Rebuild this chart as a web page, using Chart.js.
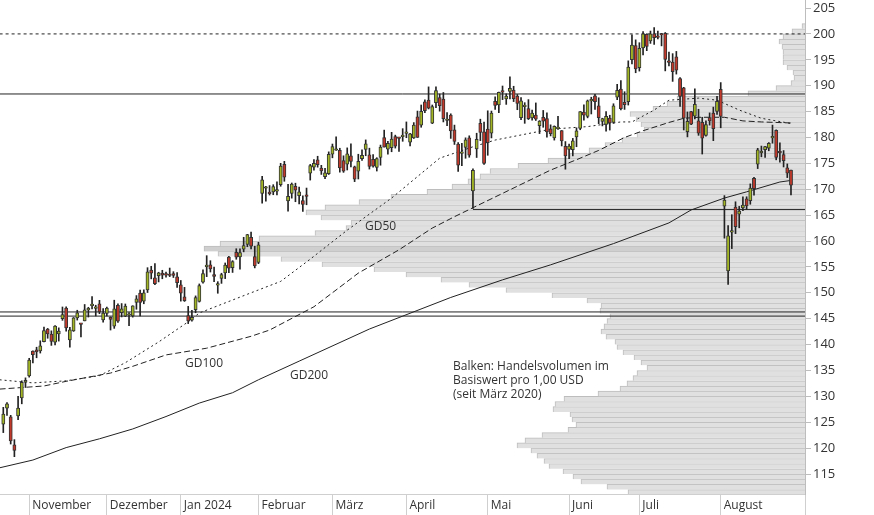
<!DOCTYPE html>
<html>
<head>
<meta charset="utf-8">
<script src="https://cdn.jsdelivr.net/npm/chart.js@4.4.1/dist/chart.umd.min.js"></script>
<style>
    html, body { margin: 0; padding: 0; background: #fff; }
    #chart { display: block; }
</style>
</head>
<body>
<canvas id="chart" width="874" height="515"></canvas>
<script>
// trading days shown (Okt 2023 - Aug 2024)
const days = [
    "2023-10-23", "2023-10-24", "2023-10-25", "2023-10-26", "2023-10-27", "2023-10-30", "2023-10-31",
    "2023-11-01", "2023-11-02", "2023-11-03", "2023-11-06", "2023-11-07", "2023-11-08", "2023-11-09", "2023-11-10",
    "2023-11-13", "2023-11-14", "2023-11-15", "2023-11-16", "2023-11-17", "2023-11-20", "2023-11-21", "2023-11-22",
    "2023-11-24", "2023-11-27", "2023-11-28", "2023-11-29", "2023-11-30",
    "2023-12-01", "2023-12-04", "2023-12-05", "2023-12-06", "2023-12-07", "2023-12-08", "2023-12-11", "2023-12-12",
    "2023-12-13", "2023-12-14", "2023-12-15", "2023-12-18", "2023-12-19", "2023-12-20", "2023-12-21", "2023-12-22",
    "2023-12-26", "2023-12-27", "2023-12-28", "2023-12-29",
    "2024-01-02", "2024-01-03", "2024-01-04", "2024-01-05", "2024-01-08", "2024-01-09", "2024-01-10", "2024-01-11",
    "2024-01-12", "2024-01-16", "2024-01-17", "2024-01-18", "2024-01-19", "2024-01-22", "2024-01-23", "2024-01-24",
    "2024-01-25", "2024-01-26", "2024-01-29", "2024-01-30", "2024-01-31",
    "2024-02-01", "2024-02-02", "2024-02-05", "2024-02-06", "2024-02-07", "2024-02-08", "2024-02-09", "2024-02-12",
    "2024-02-13", "2024-02-14", "2024-02-15", "2024-02-16", "2024-02-20", "2024-02-21", "2024-02-22", "2024-02-23",
    "2024-02-26", "2024-02-27", "2024-02-28", "2024-02-29",
    "2024-03-01", "2024-03-04", "2024-03-05", "2024-03-06", "2024-03-07", "2024-03-08", "2024-03-11", "2024-03-12",
    "2024-03-13", "2024-03-14", "2024-03-15", "2024-03-18", "2024-03-19", "2024-03-20", "2024-03-21", "2024-03-22",
    "2024-03-25", "2024-03-26", "2024-03-27", "2024-03-28",
    "2024-04-01", "2024-04-02", "2024-04-03", "2024-04-04", "2024-04-05", "2024-04-08", "2024-04-09", "2024-04-10",
    "2024-04-11", "2024-04-12", "2024-04-15", "2024-04-16", "2024-04-17", "2024-04-18", "2024-04-19", "2024-04-22",
    "2024-04-23", "2024-04-24", "2024-04-25", "2024-04-26", "2024-04-29", "2024-04-30",
    "2024-05-01", "2024-05-02", "2024-05-03", "2024-05-06", "2024-05-07", "2024-05-08", "2024-05-09", "2024-05-10",
    "2024-05-13", "2024-05-14", "2024-05-15", "2024-05-16", "2024-05-17", "2024-05-20", "2024-05-21", "2024-05-22",
    "2024-05-23", "2024-05-24", "2024-05-28", "2024-05-29", "2024-05-30", "2024-05-31",
    "2024-06-03", "2024-06-04", "2024-06-05", "2024-06-06", "2024-06-07", "2024-06-10", "2024-06-11", "2024-06-12",
    "2024-06-13", "2024-06-14", "2024-06-17", "2024-06-18", "2024-06-20", "2024-06-21", "2024-06-24", "2024-06-25",
    "2024-06-26", "2024-06-27", "2024-06-28",
    "2024-07-01", "2024-07-02", "2024-07-03", "2024-07-05", "2024-07-08", "2024-07-09", "2024-07-10", "2024-07-11",
    "2024-07-12", "2024-07-15", "2024-07-16", "2024-07-17", "2024-07-18", "2024-07-19", "2024-07-22", "2024-07-23",
    "2024-07-24", "2024-07-25", "2024-07-26", "2024-07-29", "2024-07-30", "2024-07-31",
    "2024-08-01", "2024-08-02", "2024-08-05", "2024-08-06", "2024-08-07", "2024-08-08", "2024-08-09", "2024-08-12",
    "2024-08-13", "2024-08-14", "2024-08-15", "2024-08-16", "2024-08-19", "2024-08-20", "2024-08-21", "2024-08-22",
    "2024-08-23", "2024-08-26", "2024-08-27", "2024-08-28",
];

const opens = [
    124.63, 127.74, 126.04, 120.63, 126.20, 129.72, 132.75,
    133.96, 138.73, 138.99, 138.76, 140.55, 142.97, 142.02, 140.46, 142.08, 145.00, 147.06, 140.91, 142.66, 145.13, 143.91, 144.57, 146.70, 147.53, 146.98, 147.85, 144.76,
    146.00, 145.25, 143.55, 147.58, 146.15, 145.48, 145.66, 145.52, 148.12, 149.93, 148.38, 150.56, 154.40, 152.90, 153.30, 153.77, 153.56, 153.56, 153.72, 153.10,
    151.54, 149.20, 145.59, 144.69, 146.74, 148.33, 152.06, 155.04, 155.39, 153.53, 151.49, 152.77, 153.83, 156.89, 154.85, 157.80, 156.95, 158.42, 159.34, 160.70, 157.00,
    155.87, 169.19, 170.20, 169.39, 169.48, 169.65, 170.90, 174.80, 167.73, 169.21, 170.58, 168.74, 167.83, 168.94, 173.10, 174.28, 175.70, 174.08, 172.44, 173.01,
    176.75, 177.53, 177.53, 175.54, 174.83, 176.44, 174.31, 173.50, 175.90, 177.69, 176.64, 175.80, 174.22, 176.14, 179.99, 177.75, 178.01, 180.15, 179.88, 180.17,
    180.79, 179.07, 179.90, 184.00, 182.38, 186.90, 187.24, 182.77, 186.74, 187.72, 187.43, 183.27, 184.31, 181.47, 178.74, 176.94, 178.08, 179.94, 169.68, 177.80, 182.75, 181.09,
    181.64, 180.85, 186.99, 186.28, 188.92, 187.44, 188.88, 189.16, 188.00, 183.82, 185.97, 185.60, 183.76, 184.34, 182.30, 183.88, 183.66, 181.65, 179.93, 181.70, 181.31, 178.30,
    177.70, 177.64, 180.10, 181.75, 184.90, 184.07, 187.06, 188.02, 186.09, 183.08, 182.52, 183.74, 182.91, 187.80, 189.33, 186.81, 186.92, 195.01, 197.73,
    193.49, 197.28, 199.94, 198.65, 200.04, 199.40, 200.00, 200.09, 194.80, 194.56, 195.59, 191.35, 189.59, 181.14, 185.00, 184.10, 183.20, 182.91, 180.39, 183.84, 184.72, 185.05,
    189.29, 166.75, 154.21, 161.71, 166.55, 165.17, 166.40, 168.14, 167.81, 172.11, 174.86, 177.04, 177.64, 177.92, 179.92, 181.38, 177.34, 176.70, 174.15, 173.69,
];

const highs = [
    127.88, 128.80, 126.34, 121.64, 130.02, 133.00, 133.57,
    137.35, 138.81, 139.49, 140.73, 143.37, 143.12, 142.65, 143.65, 143.23, 147.26, 147.29, 143.32, 145.23, 146.63, 144.05, 147.74, 147.20, 149.26, 147.60, 148.54, 146.93,
    147.25, 145.35, 148.57, 147.85, 147.92, 147.84, 146.19, 147.50, 149.46, 150.54, 150.57, 154.85, 155.12, 155.63, 153.97, 154.35, 153.98, 154.78, 154.08, 153.89,
    152.38, 151.05, 147.38, 146.59, 149.40, 151.71, 154.42, 157.17, 156.20, 154.99, 152.15, 153.78, 155.76, 157.05, 156.21, 158.51, 158.51, 160.72, 161.29, 161.73, 159.01,
    159.76, 172.50, 170.55, 170.71, 170.88, 171.43, 175.00, 175.39, 170.95, 171.21, 171.17, 170.42, 168.71, 170.23, 174.80, 175.75, 176.37, 174.62, 174.05, 177.22,
    178.73, 180.14, 177.92, 176.46, 177.99, 178.79, 174.47, 176.76, 177.62, 179.53, 177.93, 176.69, 176.09, 178.53, 181.42, 179.26, 180.99, 180.45, 180.00, 181.70,
    183.00, 180.79, 182.87, 185.10, 186.27, 187.29, 189.77, 186.27, 189.77, 188.38, 188.69, 184.83, 184.57, 182.39, 179.00, 178.87, 179.93, 180.32, 173.92, 180.82, 183.53, 182.99,
    185.15, 185.10, 187.87, 188.75, 189.94, 188.43, 191.70, 189.89, 188.31, 187.72, 186.72, 187.31, 185.30, 186.67, 183.26, 185.22, 184.76, 182.44, 182.24, 184.08, 181.34, 179.21,
    178.70, 179.82, 181.86, 185.00, 186.29, 187.23, 187.77, 188.35, 187.67, 183.72, 185.00, 184.29, 186.51, 190.26, 191.00, 188.84, 194.80, 199.84, 198.85,
    198.30, 200.43, 200.03, 200.55, 201.20, 200.57, 200.11, 200.27, 196.47, 196.19, 196.62, 191.58, 189.68, 184.93, 185.06, 189.39, 185.45, 183.90, 183.19, 184.75, 185.86, 187.94,
    190.60, 168.77, 162.96, 165.08, 167.58, 166.69, 168.55, 168.55, 171.04, 172.28, 177.91, 178.34, 178.30, 179.01, 182.39, 181.47, 178.97, 177.47, 174.89, 173.69,
];

const lows = [
    123.00, 126.34, 120.79, 118.35, 125.52, 128.56, 131.71,
    133.71, 136.47, 137.45, 138.36, 140.50, 141.22, 139.84, 139.91, 140.67, 144.68, 142.59, 139.52, 142.54, 144.73, 141.50, 144.57, 145.32, 146.88, 145.53, 145.97, 144.33,
    145.55, 142.81, 143.13, 144.28, 145.34, 145.40, 143.64, 145.30, 146.82, 145.52, 147.88, 150.05, 152.69, 151.56, 152.10, 152.71, 153.03, 153.12, 152.95, 151.03,
    148.39, 148.33, 144.05, 144.53, 146.15, 148.21, 151.88, 153.12, 154.01, 152.15, 149.91, 151.82, 152.74, 153.90, 153.93, 156.48, 154.55, 157.91, 158.90, 158.49, 154.81,
    155.62, 167.33, 167.70, 168.88, 168.94, 168.88, 170.58, 171.54, 165.75, 168.28, 167.59, 167.17, 165.74, 167.00, 171.77, 173.70, 174.26, 172.86, 172.03, 172.85,
    176.07, 177.49, 173.30, 173.26, 173.72, 174.33, 171.47, 171.98, 175.55, 176.47, 173.90, 174.28, 173.52, 174.64, 178.15, 176.75, 177.24, 177.95, 177.31, 179.26,
    179.95, 178.38, 179.80, 180.00, 181.97, 184.81, 185.51, 182.67, 185.77, 185.08, 183.00, 182.26, 179.82, 178.65, 173.44, 174.56, 175.98, 176.18, 166.32, 176.13, 179.39, 174.80,
    176.56, 179.91, 185.42, 184.80, 187.31, 186.39, 187.44, 186.93, 185.36, 183.45, 182.73, 183.46, 183.35, 183.28, 180.75, 181.97, 180.08, 180.30, 179.49, 181.55, 178.36, 173.87,
    175.92, 176.44, 178.21, 181.49, 183.36, 183.79, 184.54, 185.43, 182.67, 182.23, 181.22, 181.43, 182.72, 187.30, 185.33, 185.42, 186.26, 194.20, 192.50,
    192.82, 195.93, 196.76, 198.17, 197.96, 199.05, 197.69, 192.86, 193.83, 190.83, 192.24, 185.99, 181.45, 180.11, 182.48, 183.56, 180.41, 176.80, 180.24, 182.38, 179.38, 184.46,
    181.87, 160.55, 151.61, 158.54, 161.43, 162.55, 165.85, 166.11, 167.10, 168.86, 173.99, 176.26, 176.16, 177.43, 178.89, 175.68, 175.24, 174.30, 172.25, 168.92,
];

const closes = [
    126.56, 128.56, 121.39, 119.57, 127.74, 132.71, 133.09,
    137.00, 138.07, 138.60, 139.74, 142.71, 142.08, 140.60, 143.56, 142.59, 145.80, 143.20, 142.83, 145.18, 146.13, 143.90, 146.71, 146.74, 147.73, 147.03, 146.32, 146.09,
    147.03, 144.84, 146.88, 144.52, 146.88, 147.42, 145.89, 147.48, 148.84, 148.12, 149.97, 154.07, 153.79, 151.77, 153.84, 153.42, 153.41, 153.34, 153.38, 151.94,
    149.93, 148.47, 144.57, 145.24, 149.10, 151.37, 153.73, 155.18, 154.62, 153.16, 151.71, 153.50, 155.34, 154.78, 156.02, 156.87, 157.75, 159.12, 161.26, 159.00, 155.20,
    159.28, 171.81, 170.31, 169.15, 170.53, 169.84, 174.45, 172.34, 168.64, 170.98, 169.80, 169.51, 167.08, 168.59, 174.58, 174.99, 174.73, 173.54, 173.16, 176.76,
    178.22, 177.58, 174.12, 173.51, 176.82, 175.35, 171.96, 175.39, 176.56, 178.75, 174.42, 174.48, 175.90, 178.15, 178.15, 178.87, 179.71, 178.30, 179.83, 180.38,
    180.97, 180.69, 182.41, 180.00, 185.07, 185.19, 185.67, 185.95, 189.05, 186.13, 183.62, 183.32, 181.28, 179.22, 174.63, 177.23, 179.54, 176.59, 173.67, 179.62, 180.96, 175.00,
    179.00, 184.72, 186.21, 188.70, 188.76, 188.00, 189.50, 187.48, 186.57, 187.07, 185.99, 183.63, 184.70, 183.54, 183.15, 183.13, 181.05, 180.75, 182.15, 182.02, 179.32, 176.44,
    178.34, 179.34, 181.28, 185.00, 184.30, 187.06, 187.23, 186.89, 183.83, 183.66, 184.06, 182.81, 186.10, 189.08, 185.57, 186.34, 193.61, 197.85, 193.25,
    197.20, 200.00, 197.59, 200.00, 199.29, 199.34, 199.79, 195.05, 194.49, 192.72, 193.02, 187.93, 183.75, 183.13, 182.55, 186.41, 180.83, 179.85, 182.50, 183.20, 181.71, 186.98,
    184.07, 167.90, 161.02, 161.93, 162.77, 165.80, 166.94, 166.80, 170.23, 170.10, 177.59, 177.06, 178.22, 178.88, 180.11, 176.13, 177.04, 175.50, 173.12, 170.80,
];

// moving averages: [day index, value]
const gd50 = [
    [-1, 133.2], [8, 132.6], [17, 133.0], [26, 134.0], [33, 136.5], [42, 140.5], [50, 144.4], [53, 146.1],
    [67, 150.0], [75, 152.2], [83, 156.5], [93, 162.1], [105, 168.3], [118, 176.0], [127, 178.2], [133, 179.5],
    [148, 181.6], [158, 182.1], [167, 183.0], [170, 183.0], [176, 185.3], [180, 187.2], [188, 187.6], [193, 187.2],
    [199, 185.3], [205, 183.7], [213, 182.7],
];
const gd100 = [
    [-1, 131.4], [11, 132.0], [17, 132.9], [23, 133.7], [29, 134.5], [35, 135.8], [44, 138.0], [55, 139.3],
    [67, 141.6], [72, 142.8], [84, 147.3], [96, 153.8], [107, 158.3], [116, 162.5], [122, 164.7], [135, 169.2],
    [148, 173.7], [155, 175.7], [161, 177.5], [168, 180.0], [173, 181.3], [180, 182.9], [184, 183.7], [188, 183.9],
    [195, 183.9], [200, 183.2], [205, 183.0], [213, 182.8],
];
const gd200 = [
    [-1, 116.2], [8, 117.7], [17, 120.1], [26, 121.8], [35, 123.7], [44, 126.1], [53, 128.7], [62, 130.7],
    [69, 133.2], [80, 136.8], [99, 143.0], [121, 149.1], [135, 152.5], [148, 155.4], [165, 159.5], [180, 163.5],
    [186, 166.0], [195, 168.3], [201, 169.5], [210, 171.4], [213, 171.7],
];

// horizontal marker lines: [price, first day index]
const levels = [[200.0, -1], [188.4, -1], [166.1, 127], [146.3, -1], [145.5, -1]];
const levelDashed = [true, false, false, false, false];

// volume profile (since March 2020), one bin per 1,00 USD starting at 111
const profileStart = 111;
const profileVolume = [
    177, 198, 224, 232, 242, 256, 261, 268, 274, 288,
    280, 263, 237, 229, 233, 235, 252, 250, 241, 207,
    185, 178, 172, 168, 158, 164, 171, 182, 188, 190,
    199, 204, 201, 198, 195, 205, 204, 218, 253, 299,
    336, 364, 399, 431, 483, 524, 587, 601, 585, 546,
    490, 459, 454, 484, 499, 480, 446, 414, 378, 353,
    337, 325, 315, 287, 257, 235, 216, 200, 183, 168,
    161, 164, 169, 175, 152, 138, 128, 57, 29, 14,
    11, 12, 18, 22, 22, 22, 23, 26, 22, 13, 3,
];

const monthLabels = ["November", "Dezember", "Jan 2024", "Februar", "März", "April", "Mai", "Juni", "Juli", "August"];
const priceTicks = [115, 120, 125, 130, 135, 140, 145, 150, 155, 160, 165, 170, 175, 180, 185, 190, 195, 200, 205];

const X_MIN = -0.892;
const X_MAX = 216.79;
const Y_MIN = 111.14;
const Y_MAX = 206.55;
const PLOT_H = 494;

const monthStarts = [];
days.forEach((d, i) => {
    if (i > 0 && d.slice(5, 7) !== days[i - 1].slice(5, 7)) {
        monthStarts.push(i);
    }
});

const GREEN = "#a2b524";
const RED = "#c0392b";
const INK = "#222";

function lineSet(points, dash, order) {
    return {
        type: "line",
        data: points.map(([x, y]) => ({ x, y })),
        borderColor: INK,
        borderWidth: 1,
        borderDash: dash,
        pointRadius: 0,
        tension: 0,
        order: order,
    };
}

function noPadding(scale) {
    scale.paddingLeft = 0;
    scale.paddingRight = 0;
    scale.paddingTop = 0;
    scale.paddingBottom = 0;
}

const levelSets = levels.map(([price, from], k) => ({
    type: "line",
    data: [{ x: from, y: price }, { x: X_MAX, y: price }],
    borderColor: INK,
    borderWidth: 1,
    borderDash: levelDashed[k] ? [3, 3] : [],
    pointRadius: 0,
    order: 5,
}));

const maxVolume = Math.max(...profileVolume);

const labelsPlugin = {
    id: "labels",
    afterDatasetsDraw(chart) {
        const ctx = chart.ctx;
        ctx.save();
        ctx.fillStyle = "#333";
        ctx.font = "12px 'Open Sans', sans-serif";
        ctx.textBaseline = "top";
        ctx.fillText("GD50", 365, 221);
        ctx.fillText("GD100", 185, 358);
        ctx.fillText("GD200", 290, 370);
        ctx.fillText("Balken: Handelsvolumen im", 453, 361);
        ctx.fillText("Basiswert pro 1,00 USD", 453, 375);
        ctx.fillText("(seit März 2020)", 453, 389);
        ctx.restore();
    },
};

Chart.defaults.font.family = "'Open Sans', sans-serif";
Chart.defaults.font.size = 12;
Chart.defaults.color = "#333";

new Chart(document.getElementById("chart"), {
    type: "bar",
    data: {
        datasets: [
            {
                type: "bar",
                indexAxis: "y",
                xAxisID: "xv",
                yAxisID: "y",
                data: profileVolume.map((v, k) => ({ x: v, y: profileStart + k + 0.5 })),
                backgroundColor: (c) => (profileVolume[c.dataIndex] === maxVolume ? "#cfcfcf" : "#e0e0e0"),
                borderColor: "#bdbdbd",
                borderWidth: { top: 1, left: 1, bottom: 0, right: 0 },
                borderSkipped: false,
                barThickness: PLOT_H / (Y_MAX - Y_MIN),
                grouped: false,
                order: 10,
            },
            ...levelSets,
            lineSet(gd200, [], 4),
            lineSet(gd100, [6, 3], 4),
            lineSet(gd50, [2, 3], 4),
            {
                type: "bar",
                data: days.map((d, i) => ({ x: i, y: [lows[i], highs[i]] })),
                backgroundColor: INK,
                barThickness: 1,
                grouped: false,
                order: 3,
            },
            {
                type: "bar",
                data: days.map((d, i) => ({ x: i, y: [opens[i], closes[i]] })),
                backgroundColor: (c) => (closes[c.dataIndex] >= opens[c.dataIndex] ? GREEN : RED),
                borderColor: "#333",
                borderWidth: 1,
                borderSkipped: false,
                barThickness: 3.2,
                minBarLength: 1.5,
                grouped: false,
                order: 2,
            },
        ],
    },
    options: {
        responsive: false,
        animation: false,
        layout: { padding: 0 },
        plugins: {
            legend: { display: false },
            tooltip: { enabled: false },
        },
        scales: {
            x: {
                type: "linear",
                position: "bottom",
                offset: false,
                min: X_MIN,
                max: X_MAX,
                afterBuildTicks: (s) => {
                    // month separators plus the closing tick at the right end
                    s.ticks = monthStarts.concat([X_MAX]).map((v) => ({ value: v }));
                },
                afterFit: (s) => {
                    s.height = 21;
                    noPadding(s);
                },
                ticks: {
                    callback: (v, i) => monthLabels[i] || "",
                    align: "start",
                    padding: -17,
                    labelOffset: 3,
                    maxRotation: 0,
                    autoSkip: false,
                    color: "#333",
                },
                grid: { offset: false, drawOnChartArea: false, tickLength: 21, color: "#cfcfcf" },
                border: { color: "#cfcfcf" },
            },
            xv: {
                type: "linear",
                axis: "x",
                display: false,
                offset: false,
                reverse: true,
                min: 0,
                max: 805,
            },
            y: {
                type: "linear",
                position: "right",
                offset: false,
                min: Y_MIN,
                max: Y_MAX,
                afterBuildTicks: (s) => {
                    s.ticks = priceTicks.map((v) => ({ value: v }));
                },
                afterFit: (s) => {
                    s.width = 69;
                    noPadding(s);
                },
                ticks: { color: "#333", font: { size: 13 }, padding: 2 },
                grid: { offset: false, drawOnChartArea: false, tickLength: 6, color: "#bdbdbd" },
                border: { color: "#bdbdbd" },
            },
        },
    },
    plugins: [labelsPlugin],
});
</script>
</body>
</html>
